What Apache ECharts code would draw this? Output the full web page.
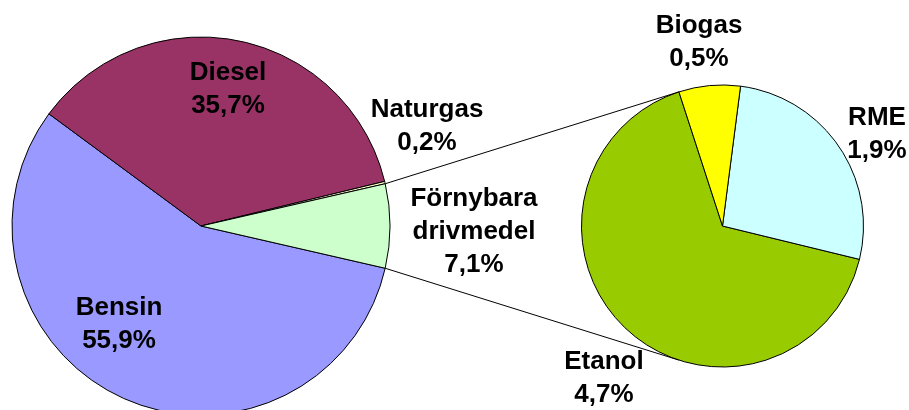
<!DOCTYPE html>
<html>
<head>
<meta charset="utf-8">
<title>Drivmedel</title>
<script src="https://cdn.jsdelivr.net/npm/echarts@6/dist/echarts.min.js"></script>
<style>
  html, body { margin: 0; padding: 0; background: #fff; }
  #chart { width: 909px; height: 410px; }
</style>
</head>
<body>
<div id="chart"></div>
<script>
// Huvudcirkel: andel per drivmedel (%)
const mainNames = ['Bensin', 'Diesel', 'Naturgas', 'Förnybara drivmedel'];
const mainValues = [55.9, 35.7, 0.2, 7.1];
const mainColors = ['#9999FF', '#993366', '#FFFFCC', '#CCFFCC'];

// Delcirkel: förnybara drivmedel uppdelat (%)
const subNames = ['Etanol', 'RME', 'Biogas'];
const subValues = [4.7, 1.9, 0.5];
const subColors = ['#99CC00', '#CCFFFF', '#FFFF00'];

// etikettens mittpunkt i px (Excel-placering, inte beräkningsbar)
const labelPos = {
  'Bensin': [119, 324],
  'Diesel': [228, 89],
  'Naturgas': [427, 126],
  'Förnybara drivmedel': [474, 232],
  'Etanol': [604, 378],
  'RME': [877, 134],
  'Biogas': [699, 42],
};

const MAIN = { center: [201, 226], r: 189 };
const SUB = { center: [722.5, 226], r: 141, startAngle: 108 };

const chart = echarts.init(document.getElementById('chart'), null, { renderer: 'canvas' });

// förnybara-sektorn ska ligga centrerad kring 0° (rakt åt höger)
const total = mainValues.reduce((a, b) => a + b, 0);
const otherHalfDeg = (mainValues[3] / total) * 180;

const labelStyle = {
  show: true,
  position: 'inside',
  color: '#000',
  fontFamily: 'Liberation Sans, Arial, sans-serif',
  fontWeight: 'bold',
  fontSize: 26,
  lineHeight: 33,
  textBorderWidth: 0,
  formatter: (p) => p.name.replace(' ', '\n') + '\n' + p.value.toFixed(1).replace('.', ',') + '%',
};

function placeLabel(params) {
  const name = params.text.split('\n')[0];
  const key = Object.keys(labelPos).find((k) => k.startsWith(name));
  const pos = labelPos[key];
  return { x: pos[0], y: pos[1], align: 'center', verticalAlign: 'middle' };
}

function pieSeries(names, values, colors, geo, startAngle, clockwise) {
  return {
    type: 'pie',
    center: geo.center,
    radius: geo.r,
    startAngle: startAngle,
    clockwise: clockwise,
    avoidLabelOverlap: false,
    silent: true,
    label: labelStyle,
    labelLine: { show: false },
    labelLayout: placeLabel,
    itemStyle: { borderColor: '#000', borderWidth: 1 },
    emphasis: { disabled: true },
    data: names.map((n, i) => ({ name: n, value: values[i], itemStyle: { color: colors[i] } })),
  };
}

chart.setOption({
  animation: false,
  backgroundColor: '#fff',
  series: [
    pieSeries(mainNames, mainValues, mainColors, MAIN, -otherHalfDeg, true),
    pieSeries(subNames, subValues, subColors, SUB, SUB.startAngle, false),
  ],
});

// förbindelselinjer: från förnybara-sektorns kanter till delcirkeln,
// ändpunkter hämtas ur pie-layouten
const mainData = chart.getModel().getSeriesByIndex(0).getData();
const subData = chart.getModel().getSeriesByIndex(1).getData();
const fl = mainData.getItemLayout(3);
const sl = subData.getItemLayout(0);
const onCircle = (l, a) => [l.cx + l.r * Math.cos(a), l.cy + l.r * Math.sin(a)];

const mainPts = [onCircle(fl, fl.startAngle), onCircle(fl, fl.endAngle)].sort((a, b) => a[1] - b[1]);
const subTop = onCircle(sl, sl.startAngle);
const subPts = [subTop, [subTop[0], 2 * sl.cy - subTop[1]]];

chart.setOption({
  graphic: mainPts.map((p, i) => ({
    type: 'line',
    silent: true,
    z: -1,
    shape: { x1: p[0], y1: p[1], x2: subPts[i][0], y2: subPts[i][1] },
    style: { stroke: '#000', lineWidth: 1 },
  })),
});
</script>
</body>
</html>
